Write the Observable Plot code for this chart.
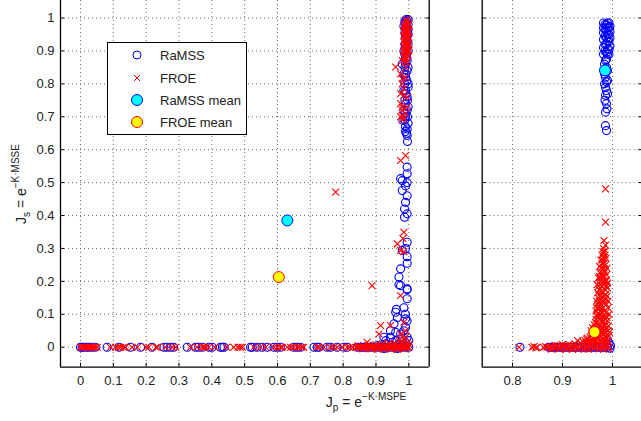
<!DOCTYPE html>
<html><head><meta charset="utf-8">
<script src="https://cdn.jsdelivr.net/npm/d3@7"></script>
<script src="https://cdn.jsdelivr.net/npm/@observablehq/plot@0.6"></script>
<style>
html,body{margin:0;padding:0;background:#fff;}
#wrap{position:relative;width:641px;height:421px;overflow:hidden;font-family:"Liberation Sans",Arial,Helvetica,sans-serif;color:#222;}
#wrap > svg{position:absolute;top:0;}
.lab{position:absolute;white-space:nowrap;font-size:14px;line-height:1;}
.lab sup{font-size:10px;vertical-align:0;position:relative;top:-7px;}
.lab sub{font-size:10px;vertical-align:0;position:relative;top:4px;}
#legend{position:absolute;left:107px;top:42px;width:138px;height:91px;border:1.5px solid #000;background:#fff;font-size:13px;}
#legend .row{position:absolute;left:0;height:20px;}
#legend svg{position:absolute;left:20px;}
#legend span{position:absolute;left:52px;white-space:nowrap;}
</style></head><body><div id="wrap"></div>
<script>
// ---- tick values ----
const yTicks = [0, 0.1, 0.2, 0.3, 0.4, 0.5, 0.6, 0.7, 0.8, 0.9, 1];
const leftXTicks = [0, 0.1, 0.2, 0.3, 0.4, 0.5, 0.6, 0.7, 0.8, 0.9, 1];
const rightXTicks = [0.8, 0.9, 1];
const legendLabels = ["RaMSS", "FROE", "RaMSS mean", "FROE mean"];

// ---- left panel: RaMSS [Jp, Js] ----
const leftRamss = [
 [0,0],[0.005,0],[0.01,0],[0.02,0],[0.025,0],[0.035,0],[0.045,0],[0.081,0],[0.117,0],[0.152,0],[0.183,0],[0.218,0],
 [0.254,0],[0.264,0],[0.274,0],[0.284,0],[0.325,0],[0.35,0],[0.36,0],[0.371,0],[0.391,0],[0.401,0],[0.426,0],[0.432,0],
 [0.437,0],[0.518,0],[0.523,0],[0.538,0],[0.553,0],[0.569,0],[0.589,0],[0.599,0],[0.609,0],[0.65,0],[0.66,0],[0.67,0],
 [0.711,0],[0.721,0],[0.726,0],[0.751,0],[0.762,0],[0.782,0],[0.802,0],[0.812,0],[0.843,0],[0.853,0],[0.86,0],[0.87,0],
 [0.88,0],[0.89,0],[0.9,0],[0.91,0],[0.92,0],[0.93,0],[0.94,0],[0.95,0],[0.96,0],[0.97,0],[0.98,0],[0.99,0],[1.0,0],
 [0.905,0.005],[0.925,-0.004],[0.945,0.006],[0.965,-0.004],[0.985,0.008],[0.995,0.03],[0.975,0.04],[0.93,0.02],
 [0.93,0.01],[0.95,0.015],[0.96,0.02],[0.97,0.01],[0.98,0.025],[0.99,0.015],[1.0,0.02],[0.944,0.03],[0.924,0.03],
 [0.96,0.045],[0.985,0.05],[0.944,0.05],[0.99,0.06],[0.955,0.071],[0.995,0.08],[0.965,0.09],[0.99,0.086],[0.96,0.106],
 [0.962,0.115],[0.99,0.1],[0.985,0.12],[0.995,0.147],[0.995,0.175],[0.975,0.187],[0.97,0.19],[0.995,0.177],[0.97,0.213],
 [0.995,0.255],[0.975,0.238],[0.995,0.275],[0.98,0.294],[0.995,0.319],[0.99,0.3],[0.995,0.405],[0.987,0.395],[0.987,0.42],
 [0.99,0.44],[0.995,0.46],[0.98,0.476],[0.99,0.49],[0.98,0.506],[0.995,0.527],[0.995,0.547],[0.975,0.512],[0.995,0.5],
 [0.995,0.643],[0.995,0.663],[0.982,0.689],[0.99,0.7],[0.995,0.72],[0.985,0.72],[0.99,0.74],[0.995,0.76],[0.985,0.78],
 [0.99,0.78],[0.998,0.8],[0.99,0.82],[0.985,0.83],[0.995,0.84],[0.98,0.86],[0.99,0.86],[0.995,0.87],[0.99,0.88],
 [0.985,0.9],[0.998,0.9],[0.99,0.91],[0.995,0.93],[0.99,0.94],[0.998,0.95],[0.995,0.96],[0.99,0.97],[0.985,0.975],
 [0.998,0.98],[0.99,0.985],[0.995,0.99],
 [0.993,0.65],[0.99,0.67],[0.998,0.68],[0.988,0.69],[0.996,0.7],[0.99,0.71],[0.998,0.73],[0.988,0.75],[0.996,0.75],
 [0.992,0.77],[0.998,0.79],[0.988,0.8],[0.994,0.81],[0.99,0.83],[0.998,0.85],[0.988,0.85],[0.994,0.88],[0.988,0.89],
 [0.998,0.92],[0.988,0.92],[0.994,0.945],[0.988,0.955],[0.998,0.965],[0.992,0.975],[0.988,0.99],[0.998,0.995],
 [0.992,0.995],[0.996,0.625],[0.99,0.655]
];

// ---- left panel: FROE [Jp, Js] ----
const leftFroe = [
 [0,0],[0.005,0],[0.01,0],[0.015,0],[0.02,0],[0.025,0],[0.03,0],[0.035,0],[0.04,0],[0.045,0],[0.051,0],[0.091,0],
 [0.107,0],[0.115,0],[0.122,0],[0.13,0],[0.137,0],[0.157,0],[0.173,0],[0.2,0],[0.208,0],[0.23,0],[0.234,0],[0.259,0],
 [0.28,0],[0.29,0],[0.335,0],[0.355,0],[0.37,0],[0.376,0],[0.38,0],[0.391,0],[0.41,0],[0.445,0],[0.467,0],[0.48,0],
 [0.487,0],[0.493,0],[0.528,0],[0.548,0],[0.564,0],[0.589,0],[0.599,0],[0.609,0],[0.614,0],[0.63,0],[0.64,0],[0.65,0],
 [0.66,0],[0.665,0],[0.675,0],[0.68,0],[0.721,0],[0.726,0],[0.741,0],[0.761,0],[0.772,0],[0.782,0],[0.797,0],[0.812,0],
 [0.82,0],[0.83,0],[0.84,0],[0.845,0],[0.85,0],[0.855,0],[0.86,0],[0.865,0],[0.87,0],[0.875,0],[0.88,0],[0.885,0],
 [0.89,0],[0.895,0],[0.9,0],[0.905,0],[0.91,0],[0.915,0],[0.92,0],[0.925,0],[0.93,0],[0.935,0],[0.94,0],[0.945,0],
 [0.95,0],[0.955,0],[0.96,0],[0.965,0],[0.97,0],[0.975,0],[0.98,0],[0.985,0],[0.99,0],[0.995,0],[1.0,0],
 [0.845,0.005],[0.86,-0.005],[0.875,0.006],[0.885,-0.005],[0.895,0.005],[0.905,-0.006],[0.915,0.006],[0.925,-0.005],
 [0.935,0.008],[0.945,-0.006],[0.955,0.008],[0.965,-0.006],[0.975,0.01],[0.985,-0.005],[0.995,0.012],
 [0.9,0.008],[0.92,0.01],[0.94,0.012],[0.96,0.01],[0.98,0.015],[0.99,0.01],[0.95,0.005],[0.97,0.02],[0.985,0.025],
 [1.0,0.008],[0.873,0.015],[0.909,0.04],[0.914,0.066],[0.944,0.066],[0.975,0.04],[0.985,0.076],[0.99,0.05],[0.99,0.03],
 [0.975,0.157],[0.888,0.187],[0.985,0.29],[0.975,0.294],[0.965,0.314],[0.982,0.33],[0.985,0.349],[0.777,0.471],
 [0.975,0.567],[0.99,0.582],[0.98,0.704],[0.985,0.695],[0.99,0.71],[0.98,0.729],[0.995,0.73],[0.995,0.76],[0.985,0.785],
 [0.98,0.815],[0.99,0.82],[0.96,0.851],[0.98,0.871],[0.99,0.85],[0.992,0.865],[0.988,0.875],
 [0.975,0.83],[0.98,0.8],[0.975,0.77],[0.985,0.765],[0.975,0.74],[0.98,0.72],[0.975,0.7],[0.98,0.69],
 [0.99,0.88],[0.995,0.89],[0.99,0.9],[0.995,0.91],[0.99,0.92],[0.995,0.93],[0.99,0.94],[0.995,0.95],[0.99,0.96],
 [0.995,0.97],[0.99,0.98],[0.995,0.99],[0.985,0.885],[0.985,0.9],[0.985,0.915],[0.985,0.93],[0.985,0.945],[0.985,0.96],
 [0.985,0.975],[1.0,0.9],[1.0,0.92],[1.0,0.94],[1.0,0.96],[1.0,0.98],
 [0.988,0.88],[0.997,0.885],[0.988,0.895],[0.997,0.9],[0.988,0.91],[0.997,0.915],[0.988,0.925],[0.997,0.93],[0.988,0.94],
 [0.997,0.945],[0.988,0.955],[0.997,0.96],[0.988,0.965],[0.997,0.975],[0.988,0.985],[0.997,0.985],[0.992,0.995],
 [0.993,0.875],[0.993,0.905],[0.993,0.935],[0.993,0.955],[0.993,0.975]
];
const leftRamssMean = [0.63, 0.385];
const leftFroeMean = [0.604, 0.213];

// ---- right panel: RaMSS [Jp, Js] ----
const rightRamss = [
 [0.815,0],[0.872,0],[0.876,0],[0.881,0],[0.885,0],[0.889,0],[0.895,0],[0.9,0],[0.906,0],[0.912,0],[0.918,0],[0.924,0],
 [0.93,0],[0.935,0],[0.94,0],[0.945,0],[0.95,0],[0.955,0],[0.96,0],[0.965,0],[0.97,0],[0.975,0],[0.98,0],[0.985,0],
 [0.99,0],[0.995,-0.003],[0.993,0.012],[0.99,0.022],[0.996,0.005],
 [0.99,0.985],[0.985,0.98],[0.995,0.975],[0.99,0.97],[0.985,0.965],[0.995,0.96],[0.99,0.95],[0.985,0.945],[0.995,0.94],
 [0.99,0.93],[0.985,0.92],[0.995,0.915],[0.99,0.905],[0.985,0.9],[0.99,0.89],[0.986,0.871],[0.988,0.85],[0.986,0.82],
 [0.988,0.806],[0.986,0.79],[0.988,0.78],[0.986,0.765],[0.989,0.724],[0.986,0.714],[0.986,0.673],[0.988,0.658],
 [0.982,0.985],[0.988,0.98],[0.993,0.985],[0.982,0.97],[0.993,0.97],[0.988,0.96],[0.982,0.955],[0.993,0.95],[0.988,0.94],
 [0.982,0.935],[0.993,0.93],[0.988,0.92],[0.982,0.91],[0.993,0.905],[0.988,0.895],[0.982,0.89],[0.993,0.89],[0.988,0.875],
 [0.984,0.86],[0.99,0.84],[0.984,0.83],[0.99,0.81],[0.984,0.8],[0.99,0.77],[0.985,0.75],[0.988,0.74]
];

// ---- right panel: FROE [Jp, Js] ----
const rightFroe = [
 [0.813,0],[0.839,0],[0.843,0.002],[0.847,-0.002],[0.849,0],[0.862,0],[0.866,0.002],[0.869,0],[0.876,0],[0.879,0.003],
 [0.883,-0.003],[0.887,0],[0.891,0.004],[0.895,-0.002],[0.899,0.002],[0.903,0],[0.907,0.005],[0.911,-0.003],[0.915,0.003],
 [0.919,0],[0.922,0.006],[0.926,-0.002],[0.93,0.004],[0.934,0.008],[0.938,0],[0.941,0.006],[0.945,0.01],[0.948,-0.003],
 [0.951,0.004],[0.954,0.012],[0.957,0.002],[0.96,0.008],[0.963,0.015],[0.966,0],[0.969,0.01],[0.972,0.004],[0.975,0.018],
 [0.978,0],[0.981,0.008],[0.984,0.002],[0.987,0.012],[0.99,0.005],[0.993,0],
 [0.878,-0.006],[0.885,0.006],[0.893,-0.005],[0.9,0.008],[0.908,-0.006],[0.913,0.008],[0.92,-0.006],[0.925,0.01],
 [0.932,-0.006],[0.937,0.012],[0.943,-0.005],[0.947,0.014],[0.952,-0.006],[0.958,0.016],[0.962,-0.004],[0.967,0.02],
 [0.973,-0.005],[0.977,0.022],[0.982,-0.006],[0.986,0.02],[0.991,-0.004],[0.989,0.028],
 [0.93,0.02],[0.94,0.018],[0.948,0.025],[0.955,0.03],[0.96,0.022],[0.965,0.035],[0.97,0.028],[0.975,0.038],[0.98,0.025],
 [0.985,0.032],[0.99,0.02],[0.992,0.035],[0.958,0.04],[0.968,0.015],[0.978,0.015],
 [0.945,0.02],[0.95,0.028],[0.953,0.018],[0.962,0.03],[0.967,0.042],[0.972,0.035],[0.977,0.05],[0.982,0.04],[0.987,0.045],
 [0.991,0.05],[0.994,0.045],[0.963,0.055],[0.973,0.06],[0.957,0.05],[0.98,0.06],
 [0.96,0.06],[0.962,0.05],[0.966,0.075],[0.97,0.055],[0.972,0.09],[0.975,0.065],[0.978,0.08],[0.98,0.045],[0.983,0.07],
 [0.986,0.095],[0.988,0.055],[0.99,0.08],[0.968,0.095],[0.974,0.1],[0.984,0.05],[0.976,0.045],[0.992,0.065],
 [0.963,0.068],[0.967,0.085],[0.971,0.07],[0.976,0.085],[0.98,0.095],[0.982,0.08],[0.985,0.065],[0.987,0.105],
 [0.989,0.09],[0.993,0.1],[0.97,0.1],[0.977,0.11],[0.981,0.12],[0.985,0.085],[0.969,0.118],
 [0.967,0.11],[0.97,0.13],[0.972,0.15],[0.975,0.12],[0.977,0.17],[0.98,0.14],[0.982,0.19],[0.984,0.11],[0.986,0.16],
 [0.988,0.13],[0.99,0.18],[0.969,0.19],[0.973,0.175],[0.979,0.105],[0.983,0.155],[0.987,0.2],[0.976,0.2],[0.991,0.12],
 [0.97,0.165],
 [0.968,0.14],[0.971,0.12],[0.974,0.14],[0.974,0.16],[0.977,0.13],[0.978,0.15],[0.979,0.185],[0.981,0.165],[0.984,0.135],
 [0.985,0.175],[0.986,0.145],[0.988,0.185],[0.989,0.155],[0.991,0.14],[0.972,0.185],[0.975,0.19],[0.983,0.2],[0.99,0.195],
 [0.972,0.21],[0.975,0.225],[0.978,0.24],[0.98,0.215],[0.983,0.255],[0.985,0.23],[0.987,0.27],[0.979,0.28],[0.984,0.29],
 [0.982,0.3],[0.986,0.31],[0.983,0.324],[0.974,0.245],[0.988,0.22],[0.977,0.265],
 [0.974,0.215],[0.977,0.23],[0.979,0.255],[0.981,0.235],[0.982,0.27],[0.986,0.25],[0.984,0.215],[0.989,0.24],[0.98,0.265],
 [0.985,0.28],[0.981,0.29],[0.976,0.21],[0.987,0.205],[0.983,0.24],
 [0.986,0.38],[0.986,0.481]
];
const rightRamssMean = [0.985, 0.841];
const rightFroeMean = [0.964, 0.046];

const yDomain = [-0.0608, 1.0532];

function panel({xDomain, xTicks, ramss, froe, meanR, meanF, showYLabels, width, marginLeft, marginRight}) {
  const grid = {stroke: "#6a6a6a", strokeOpacity: 1, strokeDasharray: "1,3", strokeWidth: 1};
  const frame = {stroke: "#000", strokeWidth: 1.3};
  const fmt = d3.format("~g");
  return Plot.plot({
    width, height: 400, marginLeft, marginRight, marginTop: 0, marginBottom: 33.3,
    x: {domain: xDomain},
    y: {domain: yDomain},
    style: {fontFamily: '"Liberation Sans", Arial, Helvetica, sans-serif', fontSize: "13px", color: "#222", background: "transparent", overflow: "visible"},
    marks: [
      Plot.gridX(xTicks, grid),
      Plot.gridY(yTicks, grid),
      Plot.axisX(xTicks, {tickSize: 0, tickPadding: 9, label: null, tickFormat: fmt}),
      showYLabels ? Plot.axisY(yTicks, {tickSize: 0, tickPadding: 6, label: null, tickFormat: fmt}) : null,
      Plot.axisY(yTicks, {anchor: "left", tickSize: -4, tickFormat: () => "", label: null, stroke: "#000"}),
      Plot.axisY(yTicks, {anchor: "right", tickSize: -4, tickFormat: () => "", label: null, stroke: "#000"}),
      Plot.axisX(xTicks, {anchor: "bottom", tickSize: -4, tickFormat: () => "", label: null, stroke: "#000"}),
      Plot.dot(ramss, {x: d => d[0], y: d => d[1], r: 4, stroke: "#0000ff", strokeWidth: 1.1, fill: "none"}),
      Plot.dot(froe, {x: d => d[0], y: d => d[1], symbol: "times", r: 3.2, stroke: "#ff0000", strokeWidth: 1.1}),
      Plot.dot([meanR], {x: d => d[0], y: d => d[1], r: 5.5, fill: "#00ffff", stroke: "#0000ff", strokeWidth: 1}),
      Plot.dot([meanF], {x: d => d[0], y: d => d[1], r: 5.5, fill: "#ffff00", stroke: "#ff0000", strokeWidth: 1}),
      Plot.ruleX([xDomain[0]], frame),
      Plot.ruleX([xDomain[1]], frame),
      Plot.ruleY([yDomain[0]], frame)
    ]
  });
}

const wrap = document.getElementById("wrap");

const left = panel({xDomain: [-0.0609, 1.0621], xTicks: leftXTicks, ramss: leftRamss, froe: leftFroe,
  meanR: leftRamssMean, meanF: leftFroeMean, showYLabels: true, width: 440, marginLeft: 60, marginRight: 11.3});
left.style.left = "0px";
wrap.appendChild(left);

const right = panel({xDomain: [0.7394, 1.0594], xTicks: rightXTicks, ramss: rightRamss, froe: rightFroe,
  meanR: rightRamssMean, meanF: rightFroeMean, showYLabels: false, width: 230, marginLeft: 61.7, marginRight: 8.3});
right.style.left = "420px";
wrap.appendChild(right);

// axis labels
const yl = document.createElement("div");
yl.className = "lab";
yl.innerHTML = "J<sub>s</sub> = e<sup>−K·MSSE</sup>";
yl.style.left = "21px"; yl.style.top = "184px";
yl.style.transform = "translate(-50%,-50%) rotate(-90deg)";
wrap.appendChild(yl);

const xl = document.createElement("div");
xl.className = "lab";
xl.innerHTML = "J<sub>p</sub> = e<sup>−K·MSPE</sup>";
xl.style.left = "366px"; xl.style.top = "402px";
xl.style.transform = "translate(-50%,-50%)";
wrap.appendChild(xl);

// legend
const lg = document.createElement("div");
lg.id = "legend";
const rowsY = [12, 35, 57, 79];
const markers = [
  '<circle cx="9" cy="10" r="4" fill="none" stroke="#0000ff"/>',
  '<path d="M6,7L12,13M12,7L6,13" stroke="#ff0000" fill="none"/>',
  '<circle cx="9" cy="10" r="5.5" fill="#00ffff" stroke="#0000ff"/>',
  '<circle cx="9" cy="10" r="5.5" fill="#ffff00" stroke="#ff0000"/>'
];
legendLabels.forEach((t, i) => {
  const row = document.createElement("div");
  row.className = "row";
  row.style.top = (rowsY[i] - 10) + "px";
  row.innerHTML = `<svg width="18" height="20" style="top:0">${markers[i]}</svg><span style="top:3px">${t}</span>`;
  lg.appendChild(row);
});
wrap.appendChild(lg);
</script></body></html>
